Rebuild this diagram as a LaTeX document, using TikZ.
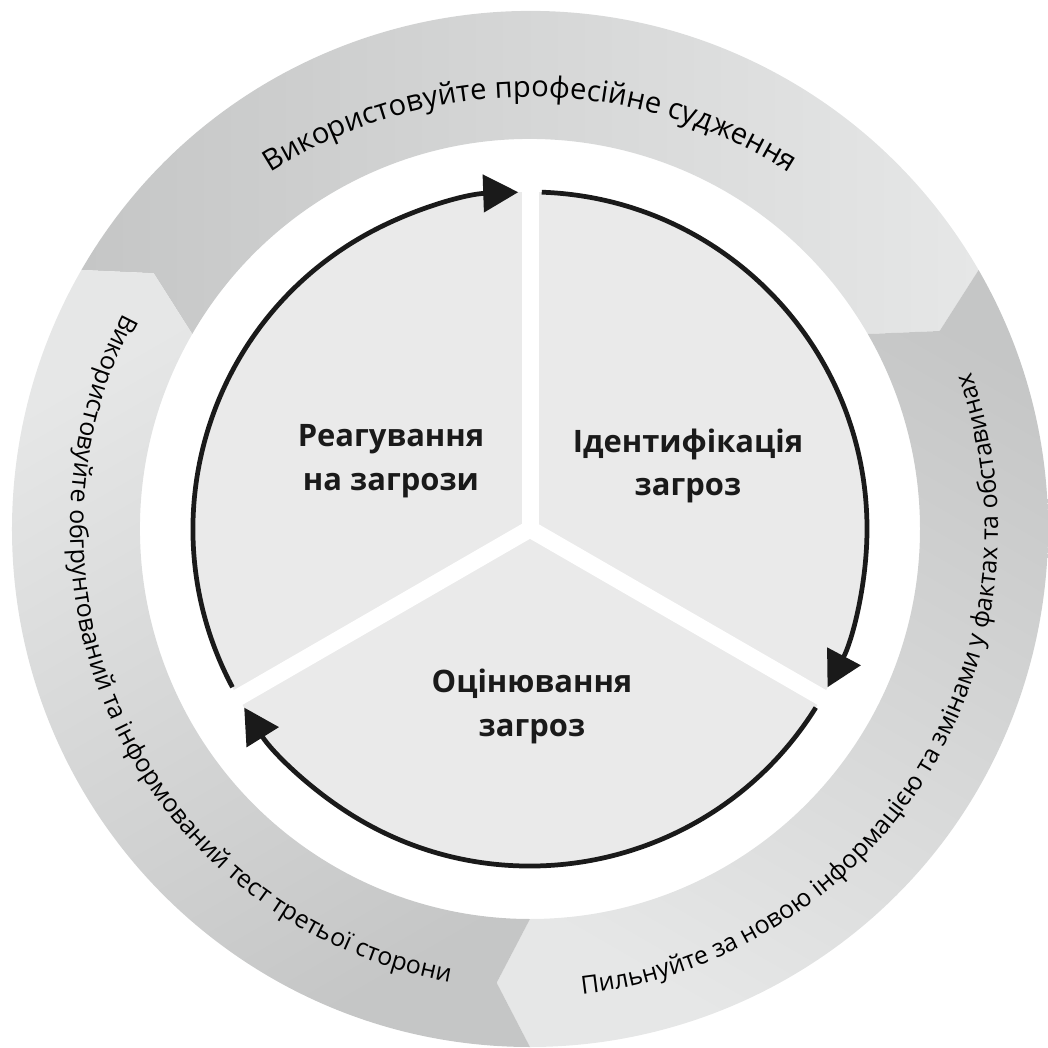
\documentclass[tikz,border=0pt]{standalone}
\usepackage{fontspec}
\setmainfont{Open Sans}
\usetikzlibrary{arrows.meta,decorations.text}

\definecolor{sectorgray}{HTML}{EAEAEA}
\definecolor{ringdark}{HTML}{C5C6C6}
\definecolor{ringlight}{HTML}{E6E7E7}
\definecolor{arrowblack}{HTML}{1A1A1A}
\pgfdeclarehorizontalshading{ringfade}{100bp}{color(0bp)=(ringdark); color(25bp)=(ringdark);
  color(75bp)=(ringlight); color(100bp)=(ringlight)}

\begin{document}
\begin{tikzpicture}[seclabel/.style={align=center, text=arrowblack,
                      font=\fontsize{17.6}{25}\selectfont\bfseries},
                    ringtext/.style 2 args={decorate, decoration={text along path, text align=center,
                      text={|\fontsize{#1}{#1}\selectfont|#2}}},
                    cyclearrow/.style={draw=arrowblack, line width=2.7pt,
                      -{Triangle[length=0.7cm, width=0.74cm]}}]
	\useasboundingbox (-10.6,-10.38) rectangle (10.36,10.58);
	% outer ring of three chevrons
	\foreach \a/\s in {150/0, 30/-120, 270/120}
		\shade[shading=ringfade, shading angle=\s]
			(\a:10.36) arc[start angle=\a, end angle=\a-120, radius=10.36]
			-- (\a-124.2:9.1) -- (\a-120:7.8)
			arc[start angle=\a-120, end angle=\a, radius=7.8]
			-- (\a-4.2:9.1) -- cycle;
	% inner disc cut in three
	\fill[sectorgray] (0,0) circle[radius=6.74];
	\foreach \a in {90,210,330}
		\draw[white, line width=0.34cm] (0,0) -- (\a:7.2);
	\foreach \a in {90,-30,210}
		\draw[cyclearrow] (\a+118:6.74) arc[start angle=\a+118, end angle=\a+2, radius=6.74];
	% labels
	\node[seclabel] (respond) at (-2.78,1.36) {Реагування\\на загрози};
	\node[seclabel] (identify) at (3.16,1.26) {Ідентифікація\\загроз};
	\node[seclabel] (assess) at (0.04,-3.54) {Оцінювання\\загроз};
	\path[ringtext={16.6}{Використовуйте професійне судження}]
		([shift={(0,-1.04)}]150:9.68) arc[start angle=150, end angle=30, radius=9.68];
	\path[ringtext={14.2}{Використовуйте обгрунтований та інформований тест третьої сторони}]
		(140:9.2) arc[start angle=140, end angle=272, radius=9.2];
	\path[ringtext={14.2}{Пильнуйте за новою інформацією та змінами у фактах та обставинах}]
		(-98:9.36) arc[start angle=-98, end angle=34, radius=9.36];
\end{tikzpicture}
\end{document}
